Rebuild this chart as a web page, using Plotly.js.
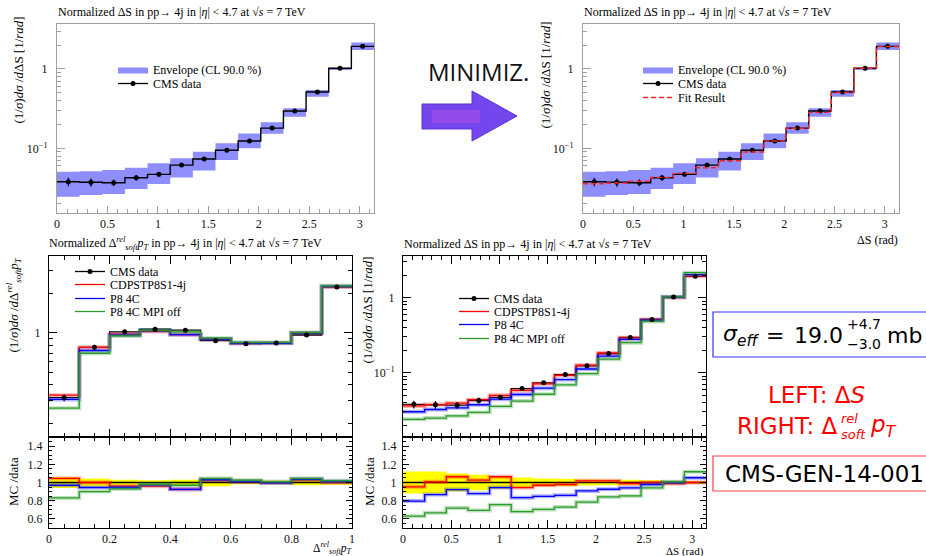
<!DOCTYPE html>
<html><head><meta charset="utf-8">
<script src="https://cdn.plot.ly/plotly-3.0.1.min.js"></script>
<style>html,body{margin:0;padding:0;background:#fff}#plot{width:926px;height:556px}</style>
</head><body><div id="plot"></div>
<script>
// ---------------- DATA ----------------
const dSEdges = [0, 0.2244, 0.4488, 0.6732, 0.8976, 1.1220, 1.3464, 1.5708, 1.7952, 2.0196, 2.2440, 2.4684, 2.6928, 2.9172, 3.1416];
const dSTicks = [0, 0.5, 1, 1.5, 2, 2.5, 3];
const dSTickText = ['0', '0.5', '1', '1.5', '2', '2.5', '3'];
const ptEdges = [0, 0.1, 0.2, 0.3, 0.4, 0.5, 0.6, 0.7, 0.8, 0.9, 1.0];
const ptTicks = [0, 0.2, 0.4, 0.6, 0.8, 1];
const ptTickText = ['0', '0.2', '0.4', '0.6', '0.8', '1'];
const ratioTicks = [0.6, 0.8, 1, 1.2, 1.4];
const ratioTickText = ['0.6', '0.8', '1', '1.2', '1.4'];
const logMinor = [0.02,0.03,0.04,0.05,0.06,0.07,0.08,0.09,0.2,0.3,0.4,0.5,0.6,0.7,0.8,0.9,2,3,4,5];

// Delta S (CMS data, normalized, 1/rad)
const cmsDS       = [0.0379, 0.0373, 0.0369, 0.0426, 0.0470, 0.0615, 0.0733, 0.0944, 0.1236, 0.180, 0.295, 0.513, 1.02, 1.93];
const cmsDSRelErr = [0.12, 0.12, 0.10, 0.085, 0.07, 0.055, 0.045, 0.04, 0.033, 0.03, 0.03, 0.025, 0.02, 0.015];
const envLowDS    = [0.0245, 0.0258, 0.0266, 0.0307, 0.0354, 0.0430, 0.0524, 0.0712, 0.100, 0.153, 0.250, 0.447, 0.971, 1.74];
const envHighDS   = [0.0507, 0.0516, 0.0533, 0.0569, 0.0647, 0.0748, 0.0904, 0.1155, 0.154, 0.2126, 0.319, 0.543, 1.04, 2.15];
const fitDS       = [0.0358, 0.0366, 0.0385, 0.0430, 0.0483, 0.0570, 0.0697, 0.0898, 0.1236, 0.179, 0.284, 0.505, 1.02, 1.92];
// MC / data ratios for Delta S
const ratioCDPS_DS   = [0.952, 1.007, 1.063, 1.026, 1.063, 0.944, 0.970, 0.978, 1.018, 1.018, 0.989, 1.000, 0.989, 1.000];
const ratioP8_DS     = [0.796, 0.867, 0.922, 0.878, 0.944, 0.833, 0.848, 0.859, 0.907, 0.926, 0.941, 0.978, 1.000, 1.052];
const ratioMPIoff_DS = [0.630, 0.667, 0.719, 0.693, 0.756, 0.681, 0.704, 0.730, 0.785, 0.841, 0.852, 0.941, 1.007, 1.118];

// Delta_soft^rel pT
const cmsPT       = [0.318, 0.776, 1.02, 1.07, 1.05, 0.873, 0.827, 0.838, 0.965, 2.26];
const cmsPTRelErr = [0.06, 0.045, 0.03, 0.025, 0.03, 0.04, 0.02, 0.02, 0.03, 0.025];
const ratioCDPS_PT   = [1.045, 1.000, 0.960, 0.960, 0.925, 1.025, 1.010, 1.000, 1.030, 1.000];
const ratioP8_PT     = [0.970, 0.945, 0.945, 0.975, 0.925, 1.030, 1.010, 0.995, 1.035, 1.010];
const ratioMPIoff_PT = [0.830, 0.900, 0.930, 0.980, 0.970, 1.045, 1.025, 1.010, 1.045, 1.020];

// ---------------- HELPERS ----------------
const W = 926, H = 556;
const px = x => x / W, py = y => 1 - y / H;
const SERIF = '"Liberation Serif", "DejaVu Serif", serif';
const SANS = '"DejaVu Sans", sans-serif';
const RED = '#ff0000', BLUE = '#0000ff', GREEN = '#2a9a2a';

const centers = e => e.slice(0, -1).map((v, i) => (v + e[i + 1]) / 2);
const stepY = v => v.concat([v[v.length - 1]]);
const mul = (a, b) => a.map((v, i) => v * b[i]);

function step(edges, vals, xa, ya, line, extra) {
  return Object.assign({type: 'scatter', mode: 'lines', x: edges, y: stepY(vals), xaxis: xa, yaxis: ya,
    line: Object.assign({shape: 'hv'}, line), hoverinfo: 'skip', showlegend: false}, extra || {});
}
function band(edges, lo, hi, xa, ya, color, extra) {
  return [
    step(edges, lo, xa, ya, {width: 0, color: color}),
    step(edges, hi, xa, ya, {width: 0, color: color}, Object.assign({fill: 'tonexty', fillcolor: color}, extra || {}))
  ];
}
function points(edges, vals, relErr, xa, ya) {
  return {type: 'scatter', mode: 'markers', x: centers(edges), y: vals, xaxis: xa, yaxis: ya,
    marker: {color: '#000', size: 5}, showlegend: false, hoverinfo: 'skip',
    error_y: {type: 'data', array: vals.map((v, i) => v * relErr[i]), color: '#000', thickness: 1.2, width: 0}};
}
function legendDummy(name, xa, ya, leg) {
  return {type: 'scatter', mode: 'lines+markers', x: [null], y: [null], xaxis: xa, yaxis: ya, name: name,
    line: {color: '#000', width: 1.3}, marker: {color: '#000', size: 5}, legend: leg, showlegend: true};
}
function model(edges, vals, xa, ya, color, name, leg) {
  const t = [step(edges, vals, xa, ya, {color: color, width: 4}, {opacity: 0.3})];
  const main = step(edges, vals, xa, ya, {color: color, width: 1.3});
  if (name) { main.showlegend = true; main.name = name; main.legend = leg; }
  t.push(main);
  return t;
}

const traces = [];
// ---- top-left: envelope + data ----
traces.push(...band(dSEdges, envLowDS, envHighDS, 'x', 'y', 'rgba(110,110,255,0.78)',
  {showlegend: true, name: 'Envelope (CL 90.0 %)', legend: 'legend'}));
traces.push(legendDummy('CMS data', 'x', 'y', 'legend2'));
traces.push(step(dSEdges, cmsDS, 'x', 'y', {color: '#000', width: 1.4}));
traces.push(points(dSEdges, cmsDS, cmsDSRelErr, 'x', 'y'));

// ---- top-right: envelope + data + fit ----
traces.push(...band(dSEdges, envLowDS, envHighDS, 'x2', 'y2', 'rgba(110,110,255,0.78)',
  {showlegend: true, name: 'Envelope (CL 90.0 %)', legend: 'legend3'}));
traces.push(legendDummy('CMS data', 'x2', 'y2', 'legend4'));
traces.push(step(dSEdges, cmsDS, 'x2', 'y2', {color: '#000', width: 1.4}));
traces.push(points(dSEdges, cmsDS, cmsDSRelErr, 'x2', 'y2'));
traces.push(step(dSEdges, fitDS, 'x2', 'y2', {color: '#ff2020', width: 1.4, dash: '5px,3px'},
  {showlegend: true, name: 'Fit Result', legend: 'legend5'}));

// ---- bottom-left: pT main ----
traces.push(legendDummy('CMS data', 'x3', 'y3', 'legend6'));
traces.push(step(ptEdges, cmsPT, 'x3', 'y3', {color: '#000', width: 1.3}));
traces.push(...model(ptEdges, mul(cmsPT, ratioCDPS_PT), 'x3', 'y3', RED, 'CDPSTP8S1-4j', 'legend7'));
traces.push(...model(ptEdges, mul(cmsPT, ratioP8_PT), 'x3', 'y3', BLUE, 'P8 4C', 'legend8'));
traces.push(...model(ptEdges, mul(cmsPT, ratioMPIoff_PT), 'x3', 'y3', GREEN, 'P8 4C MPI off', 'legend9'));
traces.push(points(ptEdges, cmsPT, cmsPTRelErr, 'x3', 'y3'));
// ---- bottom-left: ratio ----
traces.push(...band(ptEdges, cmsPTRelErr.map(e => 1 - e), cmsPTRelErr.map(e => 1 + e), 'x4', 'y4', '#ffff00'));
traces.push(step(ptEdges, cmsPT.map(v => v / v), 'x4', 'y4', {color: '#000', width: 1.3}));
traces.push(...model(ptEdges, ratioCDPS_PT, 'x4', 'y4', RED));
traces.push(...model(ptEdges, ratioP8_PT, 'x4', 'y4', BLUE));
traces.push(...model(ptEdges, ratioMPIoff_PT, 'x4', 'y4', GREEN));

// ---- bottom-right: Delta S main ----
traces.push(legendDummy('CMS data', 'x5', 'y5', 'legend10'));
traces.push(step(dSEdges, cmsDS, 'x5', 'y5', {color: '#000', width: 1.3}));
traces.push(...model(dSEdges, mul(cmsDS, ratioCDPS_DS), 'x5', 'y5', RED, 'CDPSTP8S1-4j', 'legend11'));
traces.push(...model(dSEdges, mul(cmsDS, ratioP8_DS), 'x5', 'y5', BLUE, 'P8 4C', 'legend12'));
traces.push(...model(dSEdges, mul(cmsDS, ratioMPIoff_DS), 'x5', 'y5', GREEN, 'P8 4C MPI off', 'legend13'));
traces.push(points(dSEdges, cmsDS, cmsDSRelErr, 'x5', 'y5'));
// ---- bottom-right: ratio ----
traces.push(...band(dSEdges, cmsDSRelErr.map(e => 1 - e), cmsDSRelErr.map(e => 1 + e), 'x6', 'y6', '#ffff00'));
traces.push(step(dSEdges, cmsDS.map(v => v / v), 'x6', 'y6', {color: '#000', width: 1.3}));
traces.push(...model(dSEdges, ratioCDPS_DS, 'x6', 'y6', RED));
traces.push(...model(dSEdges, ratioP8_DS, 'x6', 'y6', BLUE));
traces.push(...model(dSEdges, ratioMPIoff_DS, 'x6', 'y6', GREEN));

// ---------------- AXES ----------------
const tickFont = {family: SERIF, size: 12, color: '#111'};
const GRAY = '#a0a0a0';
function grayX(dom, anchor) {
  return {domain: dom, anchor: anchor, range: [0, dSEdges[dSEdges.length - 1]], showline: true, linecolor: GRAY, mirror: true,
    ticks: 'inside', ticklen: 7, tickcolor: GRAY, tickvals: dSTicks, ticktext: dSTickText, tickfont: tickFont,
    minor: {ticks: 'inside', ticklen: 4, tickcolor: GRAY, dtick: 0.1, tick0: 0}, showgrid: false, zeroline: false, fixedrange: true};
}
function grayY(dom, anchor) {
  return {domain: dom, anchor: anchor, type: 'log', range: [-1.815, 0.567], showline: true, linecolor: GRAY, mirror: true,
    ticks: 'inside', ticklen: 8, tickcolor: GRAY, tickvals: [0.1, 1], ticktext: ['10<sup>−1</sup>', '1'], tickfont: tickFont,
    ticklabelstandoff: 6,
    minor: {ticks: 'inside', ticklen: 4, tickcolor: GRAY, tickmode: 'array', tickvals: logMinor}, showgrid: false, zeroline: false, fixedrange: true};
}
function blackAx(o) {
  return Object.assign({showline: true, linecolor: '#000', linewidth: 1, mirror: 'allticks', ticks: 'inside', tickcolor: '#000',
    tickfont: tickFont, showgrid: false, zeroline: false, fixedrange: true}, o);
}
const dBL = [px(49), px(352)], dBR = [px(403), px(706)];
const dMain = [py(437), py(256)], dRatio = [py(528), py(437)];

const layout = {
  width: W, height: H, margin: {l: 0, r: 0, t: 0, b: 0}, paper_bgcolor: '#fff', plot_bgcolor: '#fff',
  showlegend: true, hovermode: false,
  xaxis: grayX([px(57), px(374)], 'y'),
  yaxis: grayY([py(213), py(24)], 'x'),
  xaxis2: grayX([px(583), px(899)], 'y2'),
  yaxis2: grayY([py(213), py(24)], 'x2'),
  xaxis3: blackAx({domain: dBL, anchor: 'y3', range: [0, 1], tickvals: ptTicks, showticklabels: false, ticklen: 8,
    minor: {ticks: 'inside', ticklen: 4, tickcolor: '#000', dtick: 0.05, tick0: 0}}),
  yaxis3: blackAx({domain: dMain, anchor: 'x3', type: 'log', range: [-0.8, 0.592], tickvals: [1], ticktext: ['1'], ticklen: 8,
    ticklabelstandoff: 5, minor: {ticks: 'inside', ticklen: 4, tickcolor: '#000', tickmode: 'array', tickvals: logMinor}}),
  xaxis4: blackAx({domain: dBL, anchor: 'y4', range: [0, 1], tickvals: ptTicks, ticktext: ptTickText, ticklen: 8,
    minor: {ticks: 'inside', ticklen: 4, tickcolor: '#000', dtick: 0.05, tick0: 0}}),
  yaxis4: blackAx({domain: dRatio, anchor: 'x4', range: [0.5, 1.5], tickvals: ratioTicks, ticktext: ratioTickText, ticklen: 6,
    ticklabelstandoff: 3, minor: {ticks: 'inside', ticklen: 3, tickcolor: '#000', dtick: 0.05, tick0: 0}}),
  xaxis5: blackAx({domain: dBR, anchor: 'y5', range: [0, dSEdges[dSEdges.length - 1]], tickvals: dSTicks, showticklabels: false, ticklen: 8,
    minor: {ticks: 'inside', ticklen: 4, tickcolor: '#000', dtick: 0.1, tick0: 0}}),
  yaxis5: blackAx({domain: dMain, anchor: 'x5', type: 'log', range: [-1.857, 0.556], tickvals: [0.1, 1], ticktext: ['10<sup>−1</sup>', '1'], ticklen: 8,
    ticklabelstandoff: 5, minor: {ticks: 'inside', ticklen: 4, tickcolor: '#000', tickmode: 'array', tickvals: logMinor}}),
  xaxis6: blackAx({domain: dBR, anchor: 'y6', range: [0, dSEdges[dSEdges.length - 1]], tickvals: dSTicks, ticktext: dSTickText, ticklen: 8,
    minor: {ticks: 'inside', ticklen: 4, tickcolor: '#000', dtick: 0.1, tick0: 0}}),
  yaxis6: blackAx({domain: dRatio, anchor: 'x6', range: [0.5, 1.5], tickvals: ratioTicks, ticktext: ratioTickText, ticklen: 6,
    ticklabelstandoff: 3, minor: {ticks: 'inside', ticklen: 3, tickcolor: '#000', dtick: 0.05, tick0: 0}}),
};

// one legend per row, so that the row spacing follows the reference
function leg(textX, rowY) {
  return {x: px(textX - 40), y: py(rowY - 14), xanchor: 'left', yanchor: 'top', bgcolor: 'rgba(0,0,0,0)', borderwidth: 0,
    font: {family: SERIF, size: 12, color: '#000'}, traceorder: 'normal'};
}
const legendRows = [
  ['legend', 153, 69], ['legend2', 153, 83],
  ['legend3', 678, 69], ['legend4', 678, 83], ['legend5', 678, 97],
  ['legend6', 110, 271], ['legend7', 110, 284], ['legend8', 110, 298], ['legend9', 110, 311],
  ['legend10', 494, 298], ['legend11', 494, 311], ['legend12', 494, 324], ['legend13', 494, 338],
];
legendRows.forEach(r => { layout[r[0]] = leg(r[1], r[2]); });

function ann(text, x, y, o) {
  return Object.assign({text: text, x: px(x), y: py(y), xref: 'paper', yref: 'paper', showarrow: false,
    xanchor: 'left', yanchor: 'middle', font: {family: SERIF, size: 12, color: '#000'}}, o || {});
}
const titleDS = 'Normalized ΔS in pp→ 4j in |<i>η</i>| &lt; 4.7 at √<i>s</i> = 7 TeV';
const titlePT = 'Normalized Δ<sup><i>rel</i></sup><sub><i>soft</i></sub><i>p</i><sub><i>T</i></sub> in pp→ 4j in |<i>η</i>| &lt; 4.7 at √<i>s</i> = 7 TeV';
const yTitleDS = '(1/<i>σ</i>)<i>dσ</i> /<i>d</i>ΔS [1/<i>rad</i>]';
const yTitlePT = '(1/<i>σ</i>)<i>dσ</i> /<i>d</i>Δ<sup><i>rel</i></sup><sub><i>soft</i></sub><i>p</i><sub><i>T</i></sub>';
const yFont = {family: SERIF, size: 13, color: '#000'};
const rot = {textangle: -90, xanchor: 'center', yanchor: 'top', font: yFont};
const bigSans = (size, color) => ({family: SANS, size: size, color: color});

layout.annotations = [
  ann(titleDS, 56, 12),
  ann(titleDS, 582, 12),
  ann(titlePT, 47, 244),
  ann(titleDS, 402, 244),
  ann(yTitleDS, 18, 15, rot),
  ann(yTitleDS, 545, 20, rot),
  ann(yTitlePT, 13, 256, rot),
  ann(yTitleDS, 367, 255, rot),
  ann('MC /data', 13, 482, {textangle: -90, xanchor: 'center', yanchor: 'middle', font: yFont}),
  ann('MC /data', 369, 482, {textangle: -90, xanchor: 'center', yanchor: 'middle', font: yFont}),
  ann('ΔS (rad)', 900, 240, {xanchor: 'right'}),
  ann('ΔS (rad)', 706, 551, {xanchor: 'right', font: {family: SERIF, size: 11, color: '#000'}}),
  ann('Δ<sup><i>rel</i></sup><sub><i>soft</i></sub><i>p</i><sub><i>T</i></sub>', 353, 548, {xanchor: 'right', font: {family: SERIF, size: 11.5, color: '#000'}}),
  ann('MINIMIZ.', 478, 72, {xanchor: 'center', font: {family: '"Open Sans", sans-serif', size: 24, color: '#111'}}),
  // sigma_eff box text
  ann('<i>σ</i><sub><i>eff</i></sub>', 721, 335, {font: bigSans(22, '#000')}),
  ann('=', 775, 335, {xanchor: 'center', font: bigSans(22, '#000')}),
  ann('19.0', 845, 335, {xanchor: 'right', font: bigSans(22, '#000')}),
  ann('+4.7', 845, 324, {font: bigSans(14, '#000')}),
  ann('−3.0', 845, 344, {font: bigSans(14, '#000')}),
  ann('mb', 885, 335, {font: bigSans(22, '#000')}),
  ann('LEFT: Δ<i>S</i>', 816, 395, {xanchor: 'center', font: bigSans(23, '#ff0000')}),
  ann('RIGHT: Δ', 839, 426, {xanchor: 'right', font: bigSans(23, '#ff0000')}),
  ann('<i>rel</i>', 839, 418, {font: bigSans(13, '#ff0000')}),
  ann('<i>soft</i>', 839, 434, {font: bigSans(13, '#ff0000')}),
  ann('<i>p</i><sub><i>T</i></sub>', 868, 426, {font: bigSans(23, '#ff0000')}),
  ann('CMS-GEN-14-001', 723, 474, {font: bigSans(23, '#000')}),
];

// decorative shapes: arrow and boxes (paper coordinates)
function pathPx(pts) {
  return 'M' + pts.map(p => px(p[0]).toFixed(5) + ',' + py(p[1]).toFixed(5)).join(' L') + ' Z';
}
const arrowPts = [[422, 104], [472, 104], [472, 91], [517, 116], [472, 141], [472, 129], [422, 129]];
layout.shapes = [
  {type: 'path', xref: 'paper', yref: 'paper', path: pathPx(arrowPts), fillcolor: '#7446ee', line: {color: '#5a34c8', width: 1}},
  {type: 'path', xref: 'paper', yref: 'paper', path: pathPx([[432, 110], [480, 110], [480, 123], [432, 123]]), fillcolor: 'rgba(205,85,225,0.35)', line: {width: 0}},
  {type: 'rect', xref: 'paper', yref: 'paper', x0: px(713), x1: px(940), y0: py(312), y1: py(357), line: {color: '#3030ff', width: 1.2}},
  {type: 'rect', xref: 'paper', yref: 'paper', x0: px(713), x1: px(940), y0: py(456), y1: py(491), line: {color: '#ff4040', width: 1.2}},
];

Plotly.newPlot('plot', traces, layout, {displayModeBar: false, staticPlot: true});
</script>
</body></html>
